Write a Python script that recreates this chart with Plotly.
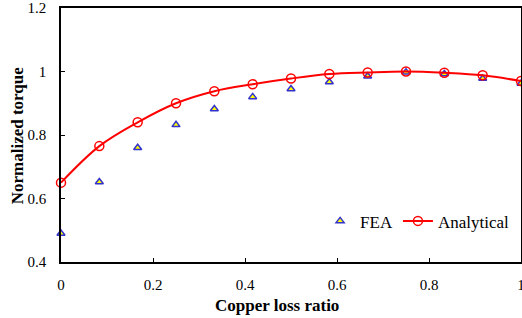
import plotly.graph_objects as go

x_vals = [0, 1/12, 2/12, 3/12, 4/12, 5/12, 6/12, 7/12, 8/12, 9/12, 10/12, 11/12, 1.0]
fea = [0.49, 0.652, 0.76, 0.832, 0.882, 0.92, 0.945, 0.967, 0.985, 0.998, 0.992, 0.978, 0.962]
analytical = [0.65, 0.765, 0.84, 0.90, 0.938, 0.96, 0.978, 0.992, 0.997, 1.0, 0.996, 0.988, 0.97]

x_ticks = [0, 0.2, 0.4, 0.6, 0.8, 1]
x_tick_text = ["0", "0.2", "0.4", "0.6", "0.8", "1"]
y_ticks = [0.4, 0.6, 0.8, 1.0, 1.2]
y_tick_text = ["0.4", "0.6", "0.8", "1", "1.2"]

fig = go.Figure()
fig.add_trace(go.Scatter(
    x=x_vals, y=fea, mode="markers", name="FEA",
    marker=dict(symbol="triangle-up", size=7, color="#ffff00",
                line=dict(color="#3333cc", width=1.5)),
    cliponaxis=False,
))
fig.add_trace(go.Scatter(
    x=x_vals, y=analytical, mode="lines+markers", name="Analytical",
    line=dict(color="#ff0000", width=2, shape="spline"),
    marker=dict(symbol="circle-open", size=9, color="#ff0000",
                line=dict(width=1.5)),
    cliponaxis=False,
))

font_family = "Liberation Serif, Times New Roman, serif"
fig.update_layout(
    width=522, height=318,
    margin=dict(l=61, r=1, t=8, b=56, autoexpand=False),
    paper_bgcolor="white", plot_bgcolor="white",
    font=dict(family=font_family, size=15, color="black"),
    showlegend=True,
    legend=dict(orientation="h", x=0.985, y=0.16, xanchor="right", yanchor="middle",
                bgcolor="rgba(0,0,0,0)", font=dict(size=17), itemwidth=30,
                tracegroupgap=0),
    xaxis=dict(range=[0, 1], tickvals=x_ticks, ticktext=x_tick_text,
               showgrid=False, zeroline=False, showline=True, linecolor="black",
               linewidth=1.5, mirror=True, ticks="inside", ticklen=4,
               tickcolor="black", ticklabelstandoff=8, automargin=False,
               ticklabeloverflow="allow"),
    yaxis=dict(range=[0.4, 1.2], tickvals=y_ticks, ticktext=y_tick_text,
               showgrid=False, zeroline=False, showline=True, linecolor="black",
               linewidth=1.5, mirror=True, ticks="inside", ticklen=4,
               tickcolor="black", ticklabelstandoff=10, automargin=False),
    annotations=[
        dict(text="<b>Copper loss ratio</b>", xref="paper", yref="paper",
             x=0.47, y=-0.17, xanchor="center", yanchor="middle",
             showarrow=False, font=dict(size=17)),
        dict(text="<b>Normalized torque</b>", xref="paper", yref="paper",
             x=-0.095, y=0.5, xanchor="center", yanchor="middle", textangle=-90,
             showarrow=False, font=dict(size=17)),
    ],
)

fig.write_html("out.html", config={"displayModeBar": False},
               post_script="document.body.style.margin='0';")
